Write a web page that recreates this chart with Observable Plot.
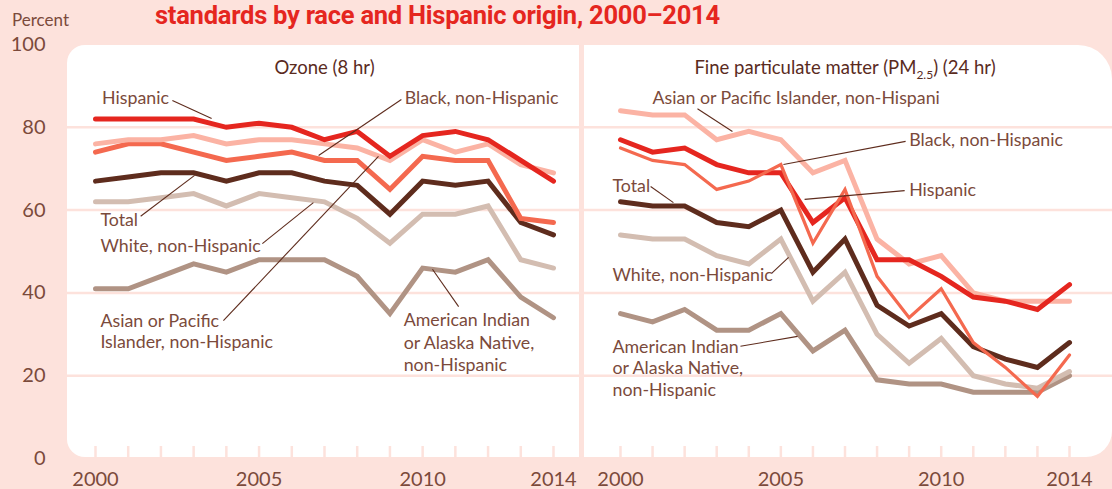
<!DOCTYPE html>
<html>
<head>
<meta charset="utf-8">
<script src="https://cdn.jsdelivr.net/npm/d3@7"></script>
<script src="https://cdn.jsdelivr.net/npm/@observablehq/plot@0.6"></script>
<style>
  html, body { margin: 0; padding: 0; background: #fde2dc; overflow: hidden; }
  #wrap { position: relative; width: 1112px; height: 489px; font-family: Lato, "Noto Sans", sans-serif; }
  .panel { position: absolute; background: #ffffff; top: 45px; height: 412px; }
  #title { position: absolute; left: 155px; top: 3px; line-height: 1; font-family: Roboto, sans-serif; font-weight: 700; font-size: 25.5px; color: #e5261f; white-space: nowrap; letter-spacing: -0.25px; }
  #ylab { position: absolute; left: 12px; top: 9px; font-size: 17px; color: #7b4a3b; }
  .plotbox { position: absolute; top: 0; }
</style>
</head>
<body>
<div id="wrap">
  <div class="panel" style="left:67px;width:512px;border-radius:18px 0 0 18px;"></div>
  <div class="panel" style="left:584px;width:528px;border-radius:0 34px 26px 0;"></div>
  <div id="title">standards by race and Hispanic origin, 2000–2014</div>
  <div id="ylab">Percent</div>
  <div class="plotbox" id="left" style="left:0px;"></div>
  <div class="plotbox" id="right" style="left:584px;"></div>
</div>
<script>
// ---- data ----
const years = [2000,2001,2002,2003,2004,2005,2006,2007,2008,2009,2010,2011,2012,2013,2014];
const xTickLabels = [2000, 2005, 2010, 2014];
const yTicks = [0, 20, 40, 60, 80, 100];
const gridValues = [20, 40, 60, 80];

const panelTitles = ["Ozone (8 hr)", "Fine particulate matter (PM2.5) (24 hr)"];
const seriesNames = ["American Indian or Alaska Native, non-Hispanic", "White, non-Hispanic", "Asian or Pacific Islander, non-Hispanic", "Total", "Black, non-Hispanic", "Hispanic"];

// Ozone (8 hr)
const ozoneHispanic = [82,82,82,82,80,81,80,77,79,73,78,79,77,72,67];
const ozoneAsian    = [76,77,77,78,76,77,77,76,75,72,77,74,76,71,69];
const ozoneBlack    = [74,76,76,74,72,73,74,72,72,65,73,72,72,58,57];
const ozoneTotal    = [67,68,69,69,67,69,69,67,66,59,67,66,67,57,54];
const ozoneWhite    = [62,62,63,64,61,64,63,62,58,52,59,59,61,48,46];
const ozoneAIAN     = [41,41,44,47,45,48,48,48,44,35,46,45,48,39,34];

// Fine particulate matter (PM2.5) (24 hr)
const pmAsian    = [84,83,83,77,79,77,69,72,53,47,49,40,38,38,38];
const pmBlack    = [75,72,71,65,67,71,52,65,44,34,41,28,22,15,25];
const pmHispanic = [77,74,75,71,69,69,57,63,48,48,44,39,38,36,42];
const pmTotal    = [62,61,61,57,56,60,45,53,37,32,35,27,24,22,28];
const pmWhite    = [54,53,53,49,47,53,38,45,30,23,29,20,18,17,21];
const pmAIAN     = [35,33,36,31,31,35,26,31,19,18,18,16,16,16,20];

// ---- styles ----
const colors = {
  "Hispanic": "#e5261f",
  "Asian or Pacific Islander, non-Hispanic": "#fbb3a4",
  "Black, non-Hispanic": "#f4694f",
  "Total": "#5e2c1d",
  "White, non-Hispanic": "#d3bdb1",
  "American Indian or Alaska Native, non-Hispanic": "#b09384"
};
const pink = "#fde2dc";
const textBrown = "#7b4a3b";
const labelSize = 17.8;

function rows(name, values) { return values.map((v, i) => ({series: name, year: years[i], value: v})); }

const ozoneSeries = {
  "American Indian or Alaska Native, non-Hispanic": ozoneAIAN,
  "White, non-Hispanic": ozoneWhite,
  "Total": ozoneTotal,
  "Black, non-Hispanic": ozoneBlack,
  "Asian or Pacific Islander, non-Hispanic": ozoneAsian,
  "Hispanic": ozoneHispanic
};
const pmSeries = {
  "American Indian or Alaska Native, non-Hispanic": pmAIAN,
  "White, non-Hispanic": pmWhite,
  "Asian or Pacific Islander, non-Hispanic": pmAsian,
  "Total": pmTotal,
  "Hispanic": pmHispanic,
  "Black, non-Hispanic": pmBlack
};

// annotation anchors (data coordinates)
const ozoneLabels = [
  {text: "Hispanic", x: 2000.2, y: 87.0},
  {text: "Black, non-Hispanic", x: 2009.45, y: 87.0},
  {text: "Total", x: 2000.15, y: 57.5},
  {text: "White, non-Hispanic", x: 2000.15, y: 51.2}
];
const ozoneLabels2 = [{text: "Asian or Pacific\nIslander, non-Hispanic", x: 2000.15, y: 30.8}];
const ozoneLabels3 = [{text: "American Indian\nor Alaska Native,\nnon-Hispanic", x: 2009.42, y: 28.3}];
const ozoneLeaders = [
  {x1: 2002.35, y1: 86.5, x2: 2003.55, y2: 82.1},
  {x1: 2009.35, y1: 86.7, x2: 2006.82, y2: 73.2},
  {x1: 2001.38, y1: 58.5, x2: 2003.03, y2: 68.4},
  {x1: 2005.1, y1: 51.9, x2: 2006.66, y2: 61.8},
  {x1: 2003.91, y1: 33.3, x2: 2008.65, y2: 73.0},
  {x1: 2011.1, y1: 36.7, x2: 2010.3, y2: 45.7}
];
const pmLabels = [
  {text: "Asian or Pacific Islander, non-Hispani", x: 2001.0, y: 87.0},
  {text: "Black, non-Hispanic", x: 2009.0, y: 76.8},
  {text: "Hispanic", x: 2009.0, y: 64.7},
  {text: "Total", x: 1999.75, y: 65.7},
  {text: "White, non-Hispanic", x: 1999.75, y: 44.2}
];
const pmLabels3 = [{text: "American Indian\nor Alaska Native,\nnon-Hispanic", x: 1999.75, y: 22.0}];
const pmLeaders = [
  {x1: 2002.4, y1: 84.5, x2: 2003.49, y2: 79.0},
  {x1: 2008.89, y1: 76.6, x2: 2005.08, y2: 71.0},
  {x1: 2008.86, y1: 64.7, x2: 2005.74, y2: 62.6},
  {x1: 2000.94, y1: 65.7, x2: 2001.65, y2: 61.8},
  {x1: 2004.71, y1: 44.7, x2: 2005.24, y2: 48.6},
  {x1: 2003.74, y1: 27.1, x2: 2005.52, y2: 29.5}
];

function makePanel({series, title, labels, labels2, labels3, leaders, lh3, width, marginLeft, marginRight, insetLeft, insetRight, showY, thinBlack}) {
  const marks = [
    Plot.ruleY(gridValues, {stroke: pink, strokeWidth: 2.5}),
    Plot.tickX(years, {x: d => d, stroke: pink, strokeWidth: 2.5, insetTop: 402})
  ];
  for (const [name, values] of Object.entries(series)) {
    const sw = (thinBlack && name === "Black, non-Hispanic") ? 3.2 : 5;
    marks.push(Plot.line(rows(name, values), {x: "year", y: "value", stroke: colors[name], strokeWidth: sw, strokeLinejoin: "miter", strokeMiterlimit: 4, curve: "linear"}));
  }
  marks.push(Plot.link(leaders, {x1: "x1", y1: "y1", x2: "x2", y2: "y2", stroke: "#5e2c1d", strokeWidth: 1.1}));
  marks.push(Plot.text(labels, {x: "x", y: "y", text: "text", textAnchor: "start", lineAnchor: "middle", fontSize: labelSize, fill: textBrown}));
  if (labels2) marks.push(Plot.text(labels2, {x: "x", y: "y", text: "text", textAnchor: "start", lineAnchor: "middle", fontSize: labelSize, lineHeight: 1.14, fill: textBrown}));
  if (labels3) marks.push(Plot.text(labels3, {x: "x", y: "y", text: "text", textAnchor: "start", lineAnchor: "middle", fontSize: labelSize, lineHeight: lh3, fill: textBrown}));
  marks.push(Plot.text([title], {frameAnchor: "top", text: d => d, dy: 16, fontSize: 18.5, fill: "#5a2b1e", x: () => 2007}));
  marks.push(Plot.axisX({ticks: xTickLabels, tickSize: 0, tickPadding: 13, tickFormat: d => String(d), fontSize: 20, color: textBrown}));
  if (showY) marks.push(Plot.axisY({ticks: yTicks, tickSize: 0, tickPadding: 22, fontSize: 20, color: textBrown}));
  return Plot.plot({
    width, height: 489,
    marginTop: 44, marginBottom: 31, marginLeft, marginRight,
    x: {domain: [2000, 2014], insetLeft, insetRight, axis: null},
    y: {domain: [0, 100], axis: null},
    style: {background: "transparent", overflow: "visible", fontFamily: "Lato, 'Noto Sans', sans-serif"},
    marks
  });
}

const left = makePanel({series: ozoneSeries, title: panelTitles[0], labels: ozoneLabels, labels2: ozoneLabels2, labels3: ozoneLabels3, leaders: ozoneLeaders, lh3: 1.27,
  width: 580, marginLeft: 67, marginRight: 1, insetLeft: 28, insetRight: 26, showY: true, thinBlack: false});
const right = makePanel({series: pmSeries, title: panelTitles[1], labels: pmLabels, labels2: null, labels3: pmLabels3, leaders: pmLeaders, lh3: 1.21,
  width: 528, marginLeft: 0, marginRight: 0, insetLeft: 36, insetRight: 43, showY: false, thinBlack: true});
document.getElementById("left").appendChild(left);
document.getElementById("right").appendChild(right);

// subscript for PM2.5
for (const t of right.querySelectorAll("text")) {
  if (t.textContent === panelTitles[1]) {
    t.textContent = "";
    const ns = "http://www.w3.org/2000/svg";
    const a = document.createElementNS(ns, "tspan"); a.textContent = "Fine particulate matter (PM";
    const b = document.createElementNS(ns, "tspan"); b.textContent = "2.5"; b.setAttribute("font-size", "12"); b.setAttribute("dy", "5");
    const c = document.createElementNS(ns, "tspan"); c.textContent = ") (24 hr)"; c.setAttribute("dy", "-5");
    t.append(a, b, c);
  }
}
</script>
</body>
</html>
